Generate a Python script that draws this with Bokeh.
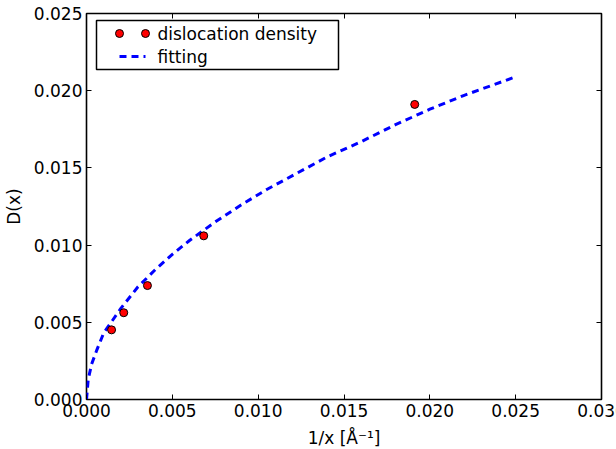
from bokeh.plotting import figure
from bokeh.models import (Range1d, LinearAxis, FixedTicker, PrintfTickFormatter, Label,
                          CustomLabelingPolicy)
from bokeh.embed import file_html
from bokeh.resources import INLINE

# ---- data ----
disl_x = [0.00146, 0.00217, 0.00355, 0.00683, 0.01912]
disl_y = [0.00451, 0.00562, 0.00738, 0.01060, 0.01911]

fit_x = [0.0, 0.0001, 0.0003, 0.0006, 0.001, 0.0015, 0.002, 0.003, 0.004, 0.005,
         0.006, 0.0075, 0.009, 0.0105, 0.012, 0.014, 0.016, 0.018, 0.020, 0.022,
         0.0235, 0.025]
fit_y = [0.0, 0.0013, 0.0023, 0.0032, 0.0043, 0.0051, 0.0059, 0.0073, 0.0084, 0.0094,
         0.0103, 0.0115, 0.0126, 0.0136, 0.0145, 0.0157, 0.0167, 0.0178, 0.0188, 0.0197,
         0.0203, 0.0209]

x_ticks = [0.0, 0.005, 0.010, 0.015, 0.020, 0.025, 0.030]
y_ticks = [0.0, 0.005, 0.010, 0.015, 0.020, 0.025]

legend_labels = ["dislocation density", "fitting"]

FONT = "DejaVu Sans"
FS = "17px"

p = figure(frame_width=515, frame_height=386,
           x_range=Range1d(0, 0.03), y_range=Range1d(0, 0.025),
           output_backend="svg", toolbar_location=None,
           min_border_left=78, min_border_top=5, min_border_right=7, min_border_bottom=42,
           background_fill_color="white", border_fill_color="white")
p.grid.visible = False
p.outline_line_color = "black"
p.outline_line_width = 1.6

fmt = PrintfTickFormatter(format="%.3f")

for ax in (p.xaxis[0], p.yaxis[0]):
    ax.axis_line_color = None
    ax.major_tick_in = 5
    ax.major_tick_out = 0
    ax.minor_tick_line_color = None
    ax.major_tick_line_color = "black"
    ax.major_label_text_font = FONT
    ax.major_label_text_font_size = FS
    ax.major_label_text_color = "black"
    ax.axis_label_text_font = FONT
    ax.axis_label_text_font_size = FS
    ax.axis_label_text_font_style = "normal"
    ax.axis_label_text_color = "black"
    ax.formatter = fmt

p.xaxis[0].ticker = FixedTicker(ticks=x_ticks)
p.yaxis[0].ticker = FixedTicker(ticks=y_ticks)
p.xaxis[0].axis_label = "1/x [Å⁻¹]"
p.yaxis[0].axis_label = "D(x)"
p.xaxis[0].major_label_standoff = 4
p.xaxis[0].axis_label_standoff = 8
p.yaxis[0].major_label_standoff = 4
p.yaxis[0].axis_label_standoff = 7

no_labels = CustomLabelingPolicy(code="if (false) { yield 0 }")
top = LinearAxis(ticker=FixedTicker(ticks=x_ticks), major_label_policy=no_labels,
                 axis_line_color=None, major_tick_in=5, major_tick_out=0,
                 minor_tick_line_color=None, major_label_standoff=2)
right = LinearAxis(ticker=FixedTicker(ticks=y_ticks), major_label_policy=no_labels,
                   axis_line_color=None, major_tick_in=5, major_tick_out=0,
                   minor_tick_line_color=None, major_label_standoff=4)
p.add_layout(top, "above")
p.add_layout(right, "right")

# data
p.line(fit_x, fit_y, line_color="#0000ff", line_width=3, line_dash="7 5")
p.scatter(disl_x, disl_y, size=8, marker="circle", fill_color="#ff0000",
          line_color="black", line_width=1)

# legend (drawn in frame-pixel ranges)
p.extra_x_ranges = {"lx": Range1d(0, 515)}
p.extra_y_ranges = {"ly": Range1d(386, 0)}
p.quad(left=[10], right=[252], top=[7], bottom=[56], fill_color="white",
       line_color="black", line_width=1.5, x_range_name="lx", y_range_name="ly")
p.scatter([33, 59], [20, 20], size=8, marker="circle", fill_color="#ff0000",
          line_color="black", line_width=1, x_range_name="lx", y_range_name="ly")
p.line([33, 59], [43, 43], line_color="#0000ff", line_width=3, line_dash="7 5",
       x_range_name="lx", y_range_name="ly")
for lbl, yy in zip(legend_labels, [20, 43]):
    p.add_layout(Label(x=71, y=yy, text=lbl, x_range_name="lx", y_range_name="ly",
                       text_font=FONT, text_font_size=FS, text_baseline="middle",
                       text_align="left", text_color="black"))

open("out.html", "w").write(file_html(p, INLINE))
